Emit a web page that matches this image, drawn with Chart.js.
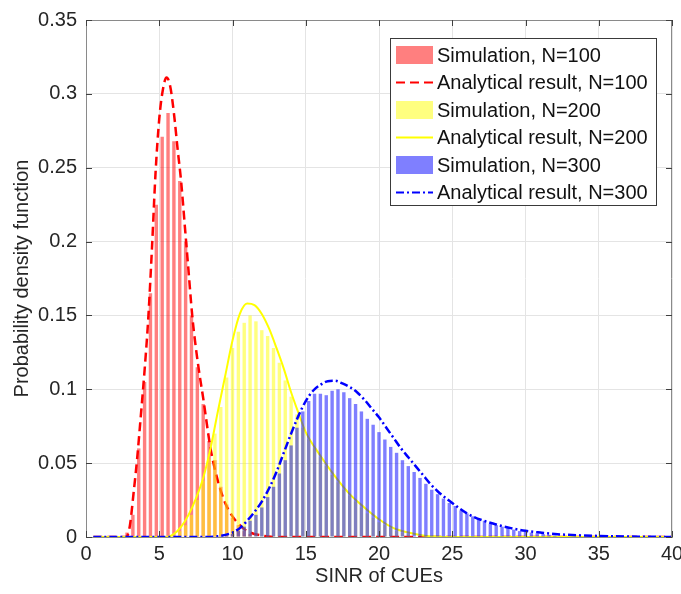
<!DOCTYPE html>
<html>
<head>
<meta charset="utf-8">
<script src="https://cdn.jsdelivr.net/npm/chart.js@4.4.1/dist/chart.umd.min.js"></script>
<style>
  html, body { margin: 0; padding: 0; background: #fff; }
  #wrap { width: 681px; height: 594px; }
</style>
</head>
<body>
<div id="wrap"><canvas id="pdfChart" width="681" height="594"></canvas></div>
<script>
// histogram bins (bin centres) and simulated pdf values
const simX100 = [2.8, 3.2, 3.6, 4.0, 4.4, 4.8, 5.2, 5.6, 6.0, 6.4, 6.8, 7.2, 7.6, 8.0, 8.4, 8.8, 9.2, 9.6, 10.0, 10.4, 10.8, 11.2];
const simY100 = [0.003, 0.015, 0.06, 0.105, 0.165, 0.225, 0.271, 0.287, 0.268, 0.241, 0.2, 0.15, 0.115, 0.09, 0.065, 0.052, 0.034, 0.022, 0.013, 0.008, 0.004, 0.002];

const simX200 = [6.0, 6.4, 6.8, 7.2, 7.6, 8.0, 8.4, 8.8, 9.2, 9.6, 10.0, 10.4, 10.8, 11.2, 11.6, 12.0, 12.4, 12.8, 13.2, 13.6, 14.0, 14.4, 14.8, 15.2, 15.6, 16.0, 16.4, 16.8, 17.2, 17.6, 18.0, 18.4, 18.8, 19.2, 19.6, 20.0, 20.4, 20.8, 21.2, 21.6, 22.0];
const simY200 = [0.001, 0.004, 0.008, 0.015, 0.025, 0.038, 0.053, 0.07, 0.088, 0.108, 0.128, 0.139, 0.145, 0.15, 0.146, 0.14, 0.136, 0.128, 0.118, 0.106, 0.095, 0.083, 0.074, 0.066, 0.06, 0.054, 0.048, 0.042, 0.037, 0.032, 0.028, 0.024, 0.02, 0.016, 0.013, 0.01, 0.008, 0.006, 0.004, 0.003, 0.002];

const simX300 = [9.2, 9.6, 10.0, 10.4, 10.8, 11.2, 11.6, 12.0, 12.4, 12.8, 13.2, 13.6, 14.0, 14.4, 14.8, 15.2, 15.6, 16.0, 16.4, 16.8, 17.2, 17.6, 18.0, 18.4, 18.8, 19.2, 19.6, 20.0, 20.4, 20.8, 21.2, 21.6, 22.0, 22.4, 22.8, 23.2, 23.6, 24.0, 24.4, 24.8, 25.2, 25.6, 26.0, 26.4, 26.8, 27.2, 27.6, 28.0, 28.4, 28.8, 29.2, 29.6, 30.0, 30.4, 30.8, 31.2, 31.6, 32.0];
const simY300 = [0.0005, 0.001, 0.002, 0.004, 0.007, 0.011, 0.015, 0.02, 0.027, 0.034, 0.043, 0.052, 0.062, 0.074, 0.085, 0.092, 0.097, 0.097, 0.096, 0.099, 0.1, 0.098, 0.094, 0.09, 0.085, 0.08, 0.076, 0.071, 0.066, 0.061, 0.057, 0.052, 0.048, 0.044, 0.04, 0.036, 0.032, 0.029, 0.026, 0.023, 0.021, 0.018, 0.016, 0.014, 0.012, 0.011, 0.009, 0.008, 0.007, 0.006, 0.005, 0.004, 0.0035, 0.003, 0.0025, 0.002, 0.0015, 0.001];

// analytical pdf curves
const anaX100 = [0.5, 2.5, 2.75, 3.0, 3.25, 3.5, 3.75, 4.0, 4.25, 4.5, 4.75, 5.0, 5.25, 5.5, 5.75, 6.0, 6.25, 6.5, 6.75, 7.0, 7.25, 7.5, 7.75, 8.0, 8.5, 9.0, 9.5, 10.0, 10.5, 11.0, 12.0, 13.0, 40.0];
const anaY100 = [0, 0, 0, 0.008, 0.03, 0.054, 0.083, 0.113, 0.148, 0.195, 0.247, 0.283, 0.303, 0.311, 0.305, 0.287, 0.263, 0.24, 0.21, 0.18, 0.15, 0.128, 0.11, 0.094, 0.06, 0.038, 0.023, 0.014, 0.008, 0.004, 0.001, 0, 0];

const anaX200 = [0.5, 5.5, 6.0, 6.5, 7.0, 7.5, 8.0, 8.5, 9.0, 9.5, 10.0, 10.5, 11.0, 11.5, 12.0, 12.5, 13.0, 13.5, 14.0, 14.5, 15.0, 16.0, 17.0, 18.0, 19.0, 20.0, 21.0, 22.0, 23.0, 25.0, 40.0];
const anaY200 = [0, 0, 0.002, 0.007, 0.015, 0.026, 0.04, 0.06, 0.085, 0.109, 0.133, 0.151, 0.158, 0.157, 0.151, 0.141, 0.128, 0.114, 0.098, 0.084, 0.071, 0.055, 0.041, 0.029, 0.02, 0.012, 0.006, 0.003, 0.001, 0, 0];

const anaX300 = [0.5, 8.0, 9.0, 10.0, 10.5, 11.0, 11.5, 12.0, 12.5, 13.0, 13.5, 14.0, 14.5, 15.0, 15.5, 16.0, 16.5, 17.0, 17.5, 18.0, 18.5, 19.0, 19.5, 20.0, 20.5, 21.0, 21.5, 22.0, 22.5, 23.0, 23.5, 24.0, 25.0, 26.0, 27.0, 28.0, 29.0, 30.0, 31.0, 32.0, 34.0, 36.0, 38.0, 40.0];
const anaY300 = [0, 0, 0.0005, 0.003, 0.006, 0.011, 0.017, 0.024, 0.033, 0.044, 0.057, 0.07, 0.082, 0.092, 0.099, 0.103, 0.1055, 0.1058, 0.104, 0.1015, 0.098, 0.093, 0.087, 0.081, 0.074, 0.067, 0.06, 0.054, 0.048, 0.042, 0.036, 0.031, 0.023, 0.016, 0.0115, 0.0085, 0.006, 0.0042, 0.003, 0.002, 0.001, 0.0005, 0.0002, 0];

const xTicks = [0, 5, 10, 15, 20, 25, 30, 35, 40];
const yTicks = [0, 0.05, 0.1, 0.15, 0.2, 0.25, 0.3, 0.35];

const pts = (xs, ys) => xs.map((x, i) => ({ x: x, y: ys[i] }));

const textColor = '#262626';
const fontFamily = "'Liberation Sans', Arial, sans-serif";

// box around the axes, inward ticks and the legend
const matlabAxes = {
  id: 'matlabAxes',
  afterDraw(chart) {
    const ctx = chart.ctx;
    const a = chart.chartArea;
    const xs = chart.scales.x, ys = chart.scales.y;
    ctx.save();
    ctx.strokeStyle = '#8a8a8a';
    ctx.lineWidth = 1;
    ctx.beginPath();
    ctx.moveTo(a.left + 0.5, a.bottom);
    ctx.lineTo(a.left + 0.5, a.top + 0.5);
    ctx.lineTo(a.right - 0.5, a.top + 0.5);
    ctx.lineTo(a.right - 0.5, a.bottom);
    ctx.stroke();
    ctx.strokeStyle = '#404040';
    ctx.beginPath();
    xTicks.forEach(v => {
      const px = Math.round(xs.getPixelForValue(v)) + 0.5;
      ctx.moveTo(px, a.bottom); ctx.lineTo(px, a.bottom - 6);
      ctx.moveTo(px, a.top); ctx.lineTo(px, a.top + 6);
    });
    yTicks.forEach(v => {
      const py = Math.round(ys.getPixelForValue(v)) + 0.5;
      ctx.moveTo(a.left, py); ctx.lineTo(a.left + 6, py);
      ctx.moveTo(a.right, py); ctx.lineTo(a.right - 6, py);
    });
    ctx.stroke();

    // legend
    const lx = 390, ly = 38, lw = 266, lh = 167;
    ctx.fillStyle = '#ffffff';
    ctx.fillRect(lx, ly, lw, lh);
    ctx.strokeStyle = '#3a3a3a';
    ctx.strokeRect(lx + 0.5, ly + 0.5, lw, lh);
    ctx.font = '20px ' + fontFamily;
    ctx.textBaseline = 'middle';
    chart.data.datasets.forEach((ds, i) => {
      const cy = ly + 17 + i * 27.5;
      if (ds.type === 'bar') {
        ctx.fillStyle = ds.backgroundColor;
        ctx.fillRect(lx + 6, cy - 9, 37, 18);
      } else {
        ctx.strokeStyle = ds.borderColor;
        ctx.lineWidth = 2;
        ctx.setLineDash(ds.borderDash || []);
        ctx.beginPath();
        ctx.moveTo(lx + 6, cy);
        ctx.lineTo(lx + 43, cy);
        ctx.stroke();
        ctx.setLineDash([]);
      }
      ctx.fillStyle = '#111';
      ctx.fillText(ds.label, lx + 47, cy + 1);
    });
    ctx.restore();
  }
};

const barStyle = { type: 'bar', grouped: false, categoryPercentage: 1, barPercentage: 0.58, borderWidth: 0 };
const lineStyle = { type: 'line', pointRadius: 0, cubicInterpolationMode: 'monotone', borderWidth: 2.5, fill: false };

new Chart(document.getElementById('pdfChart'), {
  type: 'bar',
  data: {
    datasets: [
      Object.assign({}, barStyle, { label: 'Simulation, N=100', data: pts(simX100, simY100), backgroundColor: 'rgba(255,0,0,0.5)', order: 6 }),
      Object.assign({}, lineStyle, { label: 'Analytical result, N=100', data: pts(anaX100, anaY100), borderColor: '#ff0000', borderDash: [9, 5], order: 5 }),
      Object.assign({}, barStyle, { label: 'Simulation, N=200', data: pts(simX200, simY200), backgroundColor: 'rgba(255,255,0,0.5)', order: 4 }),
      Object.assign({}, lineStyle, { label: 'Analytical result, N=200', data: pts(anaX200, anaY200), borderColor: '#ffff00', borderWidth: 2, order: 3 }),
      Object.assign({}, barStyle, { label: 'Simulation, N=300', data: pts(simX300, simY300), backgroundColor: 'rgba(0,0,255,0.5)', order: 2 }),
      Object.assign({}, lineStyle, { label: 'Analytical result, N=300', data: pts(anaX300, anaY300), borderColor: '#0000ff', borderDash: [8, 3, 2, 3], order: 1 })
    ]
  },
  options: {
    responsive: false,
    animation: false,
    devicePixelRatio: 1,
    layout: { padding: { top: 20, right: 9, left: 0, bottom: 0 } },
    plugins: { legend: { display: false }, tooltip: { enabled: false } },
    scales: {
      x: {
        type: 'linear', min: 0, max: 40, offset: false,
        afterBuildTicks: s => { s.ticks = xTicks.map(v => ({ value: v })); },
        afterFit: s => { s.height = 57; s.paddingLeft = 0; s.paddingRight = 0; },
        grid: { color: '#e4e4e4', drawTicks: false, offset: false },
        border: { color: '#8a8a8a' },
        ticks: { color: textColor, font: { size: 20, family: fontFamily }, padding: 5, maxRotation: 0, autoSkip: false },
        title: { display: true, text: 'SINR of CUEs', color: textColor, font: { size: 20, family: fontFamily }, padding: { top: 0, bottom: 6 } }
      },
      y: {
        type: 'linear', min: 0, max: 0.35,
        afterBuildTicks: s => { s.ticks = yTicks.map(v => ({ value: v })); },
        afterFit: s => { s.width = 86; s.paddingTop = 0; s.paddingBottom = 0; },
        grid: { color: '#e4e4e4', drawTicks: false },
        border: { color: '#8a8a8a' },
        ticks: { color: textColor, font: { size: 20, family: fontFamily }, padding: 9, callback: v => String(+v.toFixed(2)) },
        title: { display: true, text: 'Probability density function', color: textColor, font: { size: 20, family: fontFamily }, padding: { top: 10, bottom: 0 } }
      }
    }
  },
  plugins: [matlabAxes]
});
</script>
</body>
</html>
